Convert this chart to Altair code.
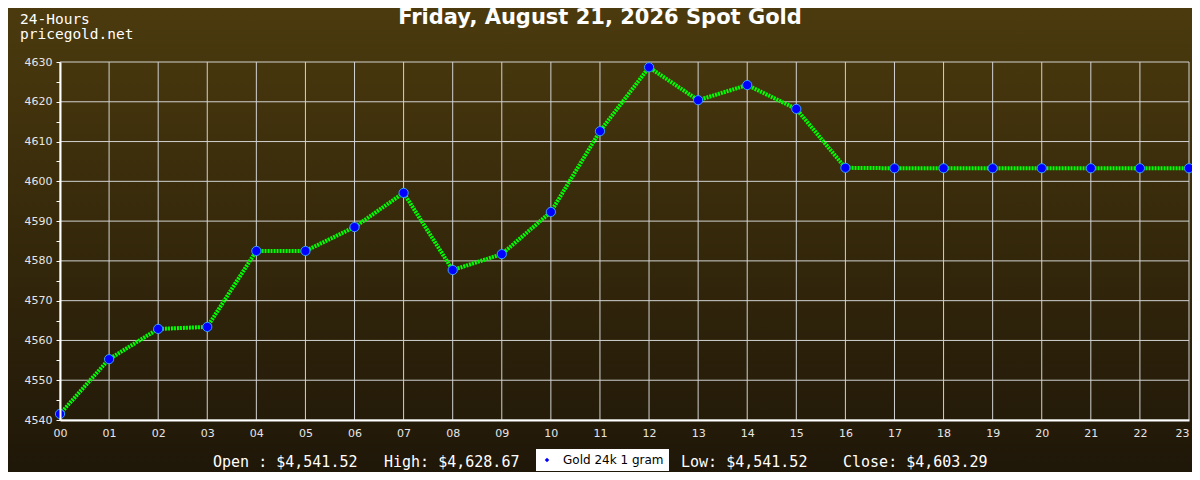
import altair as alt
import pandas as pd

# ---- data ----
hours = list(range(24))
prices = [4541.52, 4555.3, 4562.9, 4563.4, 4582.5, 4582.5, 4588.5, 4597.1,
          4577.7, 4581.7, 4592.3, 4612.6, 4628.67, 4620.4, 4624.2, 4618.2,
          4603.4, 4603.29, 4603.29, 4603.29, 4603.29, 4603.29, 4603.29, 4603.29]
series_name = "Gold 24k 1 gram"
y_ticks = list(range(4540, 4631, 5))
y_grid = list(range(4540, 4631, 10))
title_text = "Friday, August 21, 2026 Spot Gold"
corner_text = "24-Hours\npricegold.net"
open_p, high_p, low_p, close_p = 4541.52, 4628.67, 4541.52, 4603.29

df = pd.DataFrame({"hour": hours, "price": prices, "series": [series_name] * len(hours)})

W, H = 1129, 358
x_scale = alt.Scale(domain=[0, 23], nice=False, zero=False)
y_scale = alt.Scale(domain=[4540, 4630], nice=False, zero=False)

x_axis = alt.Axis(values=hours, labelExpr="(datum.value < 10 ? '0' : '') + datum.value",
                  title=None, grid=False, domainColor="#ffffff", domainWidth=2, ticks=False,
                  labelColor="#e6e6e6", labelFont="DejaVu Sans", labelFontSize=11,
                  labelAlign={"condition": {"test": "datum.value === 23", "value": "right"}, "value": "center"},
                  labelPadding=7, labelFlush=False, labelOverlap=False, zindex=1)
y_axis = alt.Axis(values=y_ticks,
                  labelExpr="datum.value % 10 === 0 ? datum.value : ''",
                  title=None, grid=False, labelOverlap=False, labelFlush=False,
                  domainColor="#ffffff", domainWidth=2, tickColor="#ffffff",
                  tickSize=4, labelColor="#e6e6e6", labelFont="DejaVu Sans",
                  labelFontSize=11, labelPadding=4, zindex=1)

X = lambda f: alt.X(f, scale=x_scale, axis=x_axis)
Y = lambda f: alt.Y(f, scale=y_scale, axis=y_axis)

bg = alt.Chart(pd.DataFrame({"a": [0]})).mark_rect(
    color=alt.Gradient(gradient="linear", x1=0, y1=0, x2=0, y2=1,
                       stops=[alt.GradientStop(color="#4c3b0e", offset=0),
                              alt.GradientStop(color="#1e1608", offset=1)])
).encode(x=alt.value(-60), x2=alt.value(W + 10), y=alt.value(-62), y2=alt.value(H + 60))

vgrid = alt.Chart(pd.DataFrame({"hour": hours})).mark_rule(color="#d2d2d2", strokeWidth=1).encode(
    x=X("hour:Q"))
hgrid = alt.Chart(pd.DataFrame({"price": y_grid})).mark_rule(color="#d2d2d2", strokeWidth=1).encode(
    y=Y("price:Q"))

line = alt.Chart(df).mark_line(color="#00ff00", strokeWidth=4, strokeDash=[2, 1]).encode(
    x=X("hour:Q"), y=Y("price:Q"))

points = alt.Chart(df).mark_point(filled=True, shape="circle", size=85, stroke="#3aa0ff",
                                  strokeWidth=1, opacity=1).encode(
    x=X("hour:Q"), y=Y("price:Q"),
    color=alt.Color("series:N", scale=alt.Scale(range=["#0000ff"]),
                    legend=alt.Legend(orient="none", legendX=476, legendY=387, title=None,
                                      fillColor="#ffffff", padding=5, symbolType="diamond",
                                      symbolSize=20, symbolStrokeWidth=0,
                                      labelFont="DejaVu Sans", labelFontSize=12,
                                      labelColor="#000000", labelOffset=10)))

title = alt.Chart(pd.DataFrame({"t": [title_text]})).mark_text(
    align="center", baseline="alphabetic", font="DejaVu Sans", fontSize=21, fontWeight="bold",
    color="#ffffff"
).encode(x=alt.value(540), y=alt.value(-38), text="t:N")

corner = alt.Chart(pd.DataFrame({"t": [corner_text]})).mark_text(
    align="left", baseline="alphabetic", font="DejaVu Sans Mono", fontSize=14.5,
    color="#ffffff", lineBreak="\n", lineHeight=14.5
).encode(x=alt.value(-40), y=alt.value(-38), text="t:N")

labels = ["Open : ${:,.2f}".format(open_p), "High: ${:,.2f}".format(high_p),
          "Low: ${:,.2f}".format(low_p), "Close: ${:,.2f}".format(close_p)]
bottom = alt.Chart(pd.DataFrame({"t": labels, "xp": [153, 324, 621, 783]})).mark_text(
    align="left", baseline="alphabetic", font="DejaVu Sans Mono", fontSize=15, color="#ffffff"
).encode(x=alt.X("xp:Q", scale=None), y=alt.value(405), text="t:N")

chart = alt.layer(bg, vgrid, hgrid, line, points, title, corner, bottom).properties(
    width=W, height=H,
    autosize=alt.AutoSizeParams(type="none"),
    padding={"left": 52, "top": 54, "right": 3, "bottom": 52},
    background="#1e1608",
).configure_view(stroke="#ffffff", strokeWidth=2)

chart.save("out.html", embed_options={"renderer": "svg", "actions": False})
